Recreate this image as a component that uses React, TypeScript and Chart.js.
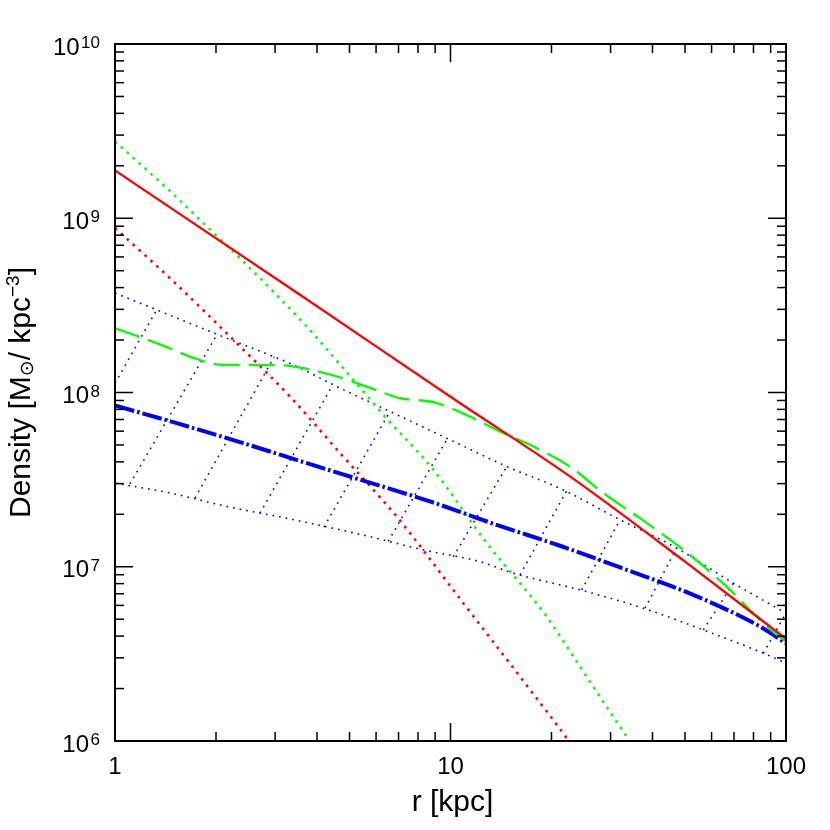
import React, { useEffect, useRef } from "react";
import { Chart, registerables } from "chart.js";

Chart.register(...registerables);

// ---- axis setup ----
const X_MIN = 1;
const X_MAX = 100;
const Y_MIN = 1e6;
const Y_MAX = 1e10;
const xMajorTicks = [1, 10, 100];
const xTickLabels = ["1", "10", "100"];
const xMinorDecades = [1, 10];
const yMajorTicks = [1e6, 1e7, 1e8, 1e9, 1e10];
const yTickExponents = ["6", "7", "8", "9", "10"];
const yMinorDecades = [1e6, 1e7, 1e8, 1e9];
const minorMultipliers = [2, 3, 4, 5, 6, 7, 8, 9];

// ---- red solid ----
const rRedSolid = [1, 3.56, 10.31, 22.7, 50, 100];
const rhoRedSolid = [1.88e9, 3.64e8, 9.08e7, 3.3e7, 1.07e7, 3.86e6];

// ---- red dotted ----
const rRedDot = [1, 1.476, 2.305, 3.323, 4.685, 6.913, 10.92, 17.26, 22.2, 23.4];
const rhoRedDot = [8.79e8, 4.43e8, 1.92e8, 9.48e7, 4.49e7, 1.94e7, 6.18e6, 1.97e6, 1.04e6, 9.0e5];

// ---- green dotted ----
const rGreenDot = [1, 1.426, 1.792, 2.584, 3.728, 4.792, 6.378, 8.888, 12.82, 19.35, 24.32, 33.5, 35.5];
const rhoGreenDot = [2.76e9, 1.49e9, 9.8e8, 4.95e8, 2.39e8, 1.38e8, 7.28e7, 3.6e7, 1.37e7, 5.18e6, 2.67e6, 1.06e6, 9.0e5];

// ---- green dashed ----
const rGreenDash = [1, 1.214, 1.492, 1.712, 2.102, 2.584, 3.175, 3.641, 4.426, 5.627, 7.07, 8.99, 11.3, 14.05, 17.65, 22.7, 28.54, 36.7, 45.1, 55.4, 68.1, 87.6, 100];
const rhoGreenDash = [2.34e8, 2.05e8, 1.76e8, 1.58e8, 1.44e8, 1.44e8, 1.43e8, 1.38e8, 1.26e8, 1.08e8, 9.29e7, 8.76e7, 7.35e7, 5.97e7, 4.9e7, 3.76e7, 2.65e7, 1.9e7, 1.43e7, 1.05e7, 7.37e6, 4.54e6, 3.72e6];

// ---- blue dash-dot ----
const rBlue = [1, 1.527, 2.412, 3.814, 5.497, 8.689, 13.73, 21.21, 33.5, 52.9, 83.7, 100];
const rhoBlue = [8.42e7, 6.67e7, 5.12e7, 3.88e7, 3.12e7, 2.37e7, 1.74e7, 1.32e7, 9.6e6, 6.9e6, 4.54e6, 3.64e6];

// ---- blue dotted band: upper & lower edges ----
const rUpper = [1, 1.331, 2.152, 3.4, 4.685, 6.6, 9.74, 14.71, 21.69, 32.0, 47.2, 69.7, 100];
const rhoUpper = [3.72e8, 2.98e8, 2.05e8, 1.44e8, 1.06e8, 7.78e7, 5.47e7, 3.76e7, 2.76e7, 1.86e7, 1.28e7, 8.05e6, 5.42e6];
const rLower = [1, 1.458, 2.152, 3.323, 5.497, 8.298, 12.24, 15.39, 24.32, 37.55, 56.7, 85.6, 100];
const rhoLower = [3.02e7, 2.65e7, 2.22e7, 1.88e7, 1.52e7, 1.25e7, 1.07e7, 9.19e6, 7.37e6, 5.78e6, 4.34e6, 3.19e6, 2.8e6];

// ---- blue dotted rungs across the band ----
const rungLowR = [1, 1.108, 1.732, 2.705, 4.197, 6.526, 10.19, 16.12, 24.6, 38.0, 56.7, 85.6];
const rungLowRho = [1.13e8, 2.99e7, 2.48e7, 2.03e7, 1.69e7, 1.4e7, 1.14e7, 8.99e6, 7.36e6, 5.78e6, 4.34e6, 3.19e6];
const rungUpR = [1.331, 2.01, 2.98, 4.426, 6.6, 9.74, 14.71, 22.2, 32.0, 47.2, 69.7, 100];
const rungUpRho = [2.98e8, 2.14e8, 1.6e8, 1.08e8, 7.78e7, 5.35e7, 3.76e7, 2.73e7, 1.86e7, 1.28e7, 8.05e6, 5.42e6];

const RED = "#ff0000";
const GREEN = "#00ff00";
const BLUE = "#0000ff";
const FONT = "'Liberation Sans', 'DejaVu Sans', sans-serif";

function pts(rs: number[], rhos: number[]) {
  return rs.map((r, i) => ({ x: r, y: rhos[i] }));
}

function ds(label: string, rs: number[], rhos: number[], color: string, width: number, dash: number[], smooth: boolean) {
  return {
    label,
    data: pts(rs, rhos),
    borderColor: color,
    backgroundColor: color,
    borderWidth: width,
    borderDash: dash,
    borderCapStyle: "butt",
    pointRadius: 0,
    fill: false,
    tension: smooth ? 0.4 : 0,
    cubicInterpolationMode: smooth ? "monotone" : "default",
    clip: 0,
  };
}

const framePlugin = {
  id: "frameAndLabels",
  afterDatasetsDraw(chart: any) {
    const { ctx, chartArea: a, scales } = chart;
    const xs = scales.x;
    const ys = scales.y;
    ctx.save();
    ctx.strokeStyle = "#000";
    ctx.fillStyle = "#000";
    ctx.lineCap = "butt";
    const line = (x1: number, y1: number, x2: number, y2: number) => {
      ctx.beginPath();
      ctx.moveTo(x1, y1);
      ctx.lineTo(x2, y2);
      ctx.stroke();
    };
    ctx.lineWidth = 1.5;
    const xTick = (v: number, len: number) => {
      const p = xs.getPixelForValue(v);
      line(p, a.bottom, p, a.bottom - len);
      line(p, a.top, p, a.top + len);
    };
    const yTick = (v: number, len: number) => {
      const p = ys.getPixelForValue(v);
      line(a.left, p, a.left + len, p);
      line(a.right, p, a.right - len, p);
    };
    xMajorTicks.forEach((v) => xTick(v, 18));
    xMinorDecades.forEach((d) => minorMultipliers.forEach((m) => xTick(d * m, 9)));
    yMajorTicks.forEach((v) => yTick(v, 18));
    yMinorDecades.forEach((d) => minorMultipliers.forEach((m) => yTick(d * m, 9)));

    ctx.lineWidth = 2;
    ctx.strokeRect(a.left, a.top, a.right - a.left, a.bottom - a.top);

    // x tick labels
    ctx.font = `24px ${FONT}`;
    ctx.textAlign = "center";
    ctx.textBaseline = "alphabetic";
    xMajorTicks.forEach((v, i) => {
      ctx.fillText(xTickLabels[i], xs.getPixelForValue(v), 774);
    });

    // y tick labels 10^n
    yMajorTicks.forEach((v, i) => {
      const p = ys.getPixelForValue(v);
      ctx.font = `17px ${FONT}`;
      const ew = ctx.measureText(yTickExponents[i]).width;
      ctx.textAlign = "right";
      ctx.fillText(yTickExponents[i], 100, p + 4);
      ctx.font = `24px ${FONT}`;
      ctx.fillText("10", 100 - ew - 1.5, p + 10.5);
    });

    // x title
    ctx.font = `30px ${FONT}`;
    ctx.textAlign = "center";
    ctx.fillText("r [kpc]", (a.left + a.right) / 2 + 2, 811);

    // y title (rotated, rich text)
    const segs = [
      { t: "Density [M", size: 30, dy: 0 },
      { t: "⊙", size: 19, dy: 3 },
      { t: "/ kpc", size: 30, dy: 0 },
      { t: "−3", size: 19, dy: -11 },
      { t: "]", size: 30, dy: 0 },
    ];
    let total = 0;
    const widths = segs.map((s) => {
      ctx.font = `${s.size}px ${FONT}`;
      const w = ctx.measureText(s.t).width;
      total += w;
      return w;
    });
    ctx.translate(30, (a.top + a.bottom) / 2);
    ctx.rotate(-Math.PI / 2);
    ctx.textAlign = "left";
    let x = -total / 2;
    segs.forEach((s, i) => {
      ctx.font = `${s.size}px ${FONT}`;
      ctx.fillText(s.t, x, s.dy);
      x += widths[i];
    });
    ctx.restore();
  },
};

export default function App() {
  const ref = useRef<HTMLCanvasElement | null>(null);
  useEffect(() => {
    if (!ref.current) return;
    const meshDash = [1.7, 5];
    const datasets: any[] = [
      ds("NFW total", rRedSolid, rhoRedSolid, RED, 2.3, [], true),
      ds("model dashed", rGreenDash, rhoGreenDash, GREEN, 2.3, [26, 9], true),
      ds("median", rBlue, rhoBlue, BLUE, 4, [20, 3, 2.5, 3], true),
      ds("red dotted", rRedDot, rhoRedDot, RED, 2.6, [2.6, 5.4], true),
      ds("green dotted", rGreenDot, rhoGreenDot, GREEN, 2.6, [2.6, 5.4], true),
      ds("upper", rUpper, rhoUpper, BLUE, 1.6, meshDash, true),
      ds("lower", rLower, rhoLower, BLUE, 1.6, meshDash, true),
    ];
    rungLowR.forEach((r, i) => {
      datasets.push(
        ds("rung " + (i + 1), [r, rungUpR[i]], [rungLowRho[i], rungUpRho[i]], BLUE, 1.6, meshDash, false)
      );
    });
    const chart = new Chart(ref.current, {
      type: "line",
      data: { datasets },
      options: {
        animation: false,
        responsive: false,
        devicePixelRatio: 1,
        events: [],
        layout: { padding: { left: 115, right: 44, top: 44, bottom: 89 } },
        plugins: {
          legend: { display: false },
          tooltip: { enabled: false },
          title: { display: false },
        },
        scales: {
          x: { type: "logarithmic", min: X_MIN, max: X_MAX, display: false },
          y: { type: "logarithmic", min: Y_MIN, max: Y_MAX, display: false },
        },
      },
      plugins: [framePlugin],
    } as any);
    return () => chart.destroy();
  }, []);
  return (
    <div style={{ position: "absolute", left: 0, top: 0, width: 830, height: 830, background: "#fff" }}>
      <canvas ref={ref} width={830} height={830} style={{ display: "block" }} />
    </div>
  );
}
